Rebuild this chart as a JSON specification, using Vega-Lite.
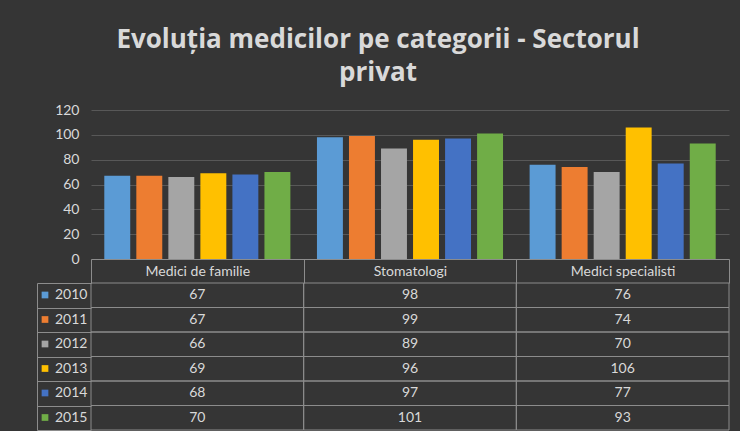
{
  "$schema": "https://vega.github.io/schema/vega-lite/v6.json",
  "background": "#353535",
  "padding": {"left": 36, "top": 27, "right": 12, "bottom": 0},
  "title": {
    "text": ["Evoluția medicilor pe categorii - Sectorul", "privat"],
    "fontSize": 26,
    "lineHeight": 33,
    "font": "Open Sans",
    "fontWeight": "bold",
    "color": "#d9d9d9",
    "anchor": "middle",
    "dx": -5,
    "offset": 17
  },
  "data": {
    "values": [
      {"category": "Medici de familie", "year": "2010", "value": 67},
      {"category": "Medici de familie", "year": "2011", "value": 67},
      {"category": "Medici de familie", "year": "2012", "value": 66},
      {"category": "Medici de familie", "year": "2013", "value": 69},
      {"category": "Medici de familie", "year": "2014", "value": 68},
      {"category": "Medici de familie", "year": "2015", "value": 70},
      {"category": "Stomatologi", "year": "2010", "value": 98},
      {"category": "Stomatologi", "year": "2011", "value": 99},
      {"category": "Stomatologi", "year": "2012", "value": 89},
      {"category": "Stomatologi", "year": "2013", "value": 96},
      {"category": "Stomatologi", "year": "2014", "value": 97},
      {"category": "Stomatologi", "year": "2015", "value": 101},
      {"category": "Medici specialisti", "year": "2010", "value": 76},
      {"category": "Medici specialisti", "year": "2011", "value": 74},
      {"category": "Medici specialisti", "year": "2012", "value": 70},
      {"category": "Medici specialisti", "year": "2013", "value": 106},
      {"category": "Medici specialisti", "year": "2014", "value": 77},
      {"category": "Medici specialisti", "year": "2015", "value": 93}
    ]
  },
  "spacing": 24,
  "bounds": "flush",
  "vconcat": [
    {
      "width": 638,
      "height": 149,
      "mark": {"type": "bar"},
      "encoding": {
        "x": {
          "field": "category", "type": "nominal", "sort": null,
          "scale": {"paddingInner": 0, "paddingOuter": 0},
          "axis": {
            "title": null, "orient": "bottom", "domain": true, "domainColor": "#8c8c8c",
            "ticks": true, "tickBand": "extent", "tickSize": 24, "tickColor": "#8c8c8c",
            "labelPadding": -19, "labelAngle": 0, "labelFontSize": 14, "labelColor": "#d9d9d9",
            "labelFont": "Lato", "grid": false, "labelOverlap": false
          }
        },
        "xOffset": {
          "field": "year", "type": "nominal",
          "scale": {"paddingInner": 0.19, "paddingOuter": 0.415}
        },
        "y": {
          "field": "value", "type": "quantitative",
          "scale": {"domain": [0, 120]},
          "axis": {
            "title": null, "values": [0, 20, 40, 60, 80, 100, 120], "domain": false, "ticks": false,
            "labelPadding": 12, "grid": true, "gridColor": "#585858", "labelFontSize": 14,
            "labelColor": "#d9d9d9", "labelFont": "Lato"
          }
        },
        "color": {
          "field": "year", "type": "nominal",
          "scale": {
            "domain": ["2010", "2011", "2012", "2013", "2014", "2015"],
            "range": ["#5B9BD5", "#ED7D31", "#A5A5A5", "#FFC000", "#4472C4", "#70AD47"]
          },
          "legend": {
            "orient": "none", "legendX": -53, "legendY": 178, "title": null,
            "symbolType": "square", "symbolSize": 45, "symbolStrokeWidth": 0,
            "labelFontSize": 14, "labelColor": "#d9d9d9", "labelFont": "Lato",
            "rowPadding": 10.5, "padding": 0, "labelOffset": 3
          }
        }
      }
    },
    {
      "width": 638,
      "height": 147,
      "encoding": {
        "x": {
          "field": "category", "type": "nominal", "sort": null,
          "scale": {"paddingInner": 0, "paddingOuter": 0},
          "axis": null
        },
        "y": {
          "field": "year", "type": "nominal",
          "scale": {"paddingInner": 0, "paddingOuter": 0},
          "axis": {
            "title": null, "labels": false, "offset": 54, "domain": true, "domainColor": "#8c8c8c",
            "ticks": true, "tickBand": "extent", "tickSize": -54, "tickColor": "#8c8c8c", "grid": false
          }
        }
      },
      "layer": [
        {"mark": {"type": "rect", "fill": "transparent", "stroke": "#8c8c8c", "strokeWidth": 1}},
        {
          "mark": {"type": "text", "fontSize": 14, "color": "#d9d9d9", "font": "Lato"},
          "encoding": {"text": {"field": "value", "type": "quantitative"}}
        }
      ]
    }
  ],
  "config": {"view": {"stroke": null}}
}
